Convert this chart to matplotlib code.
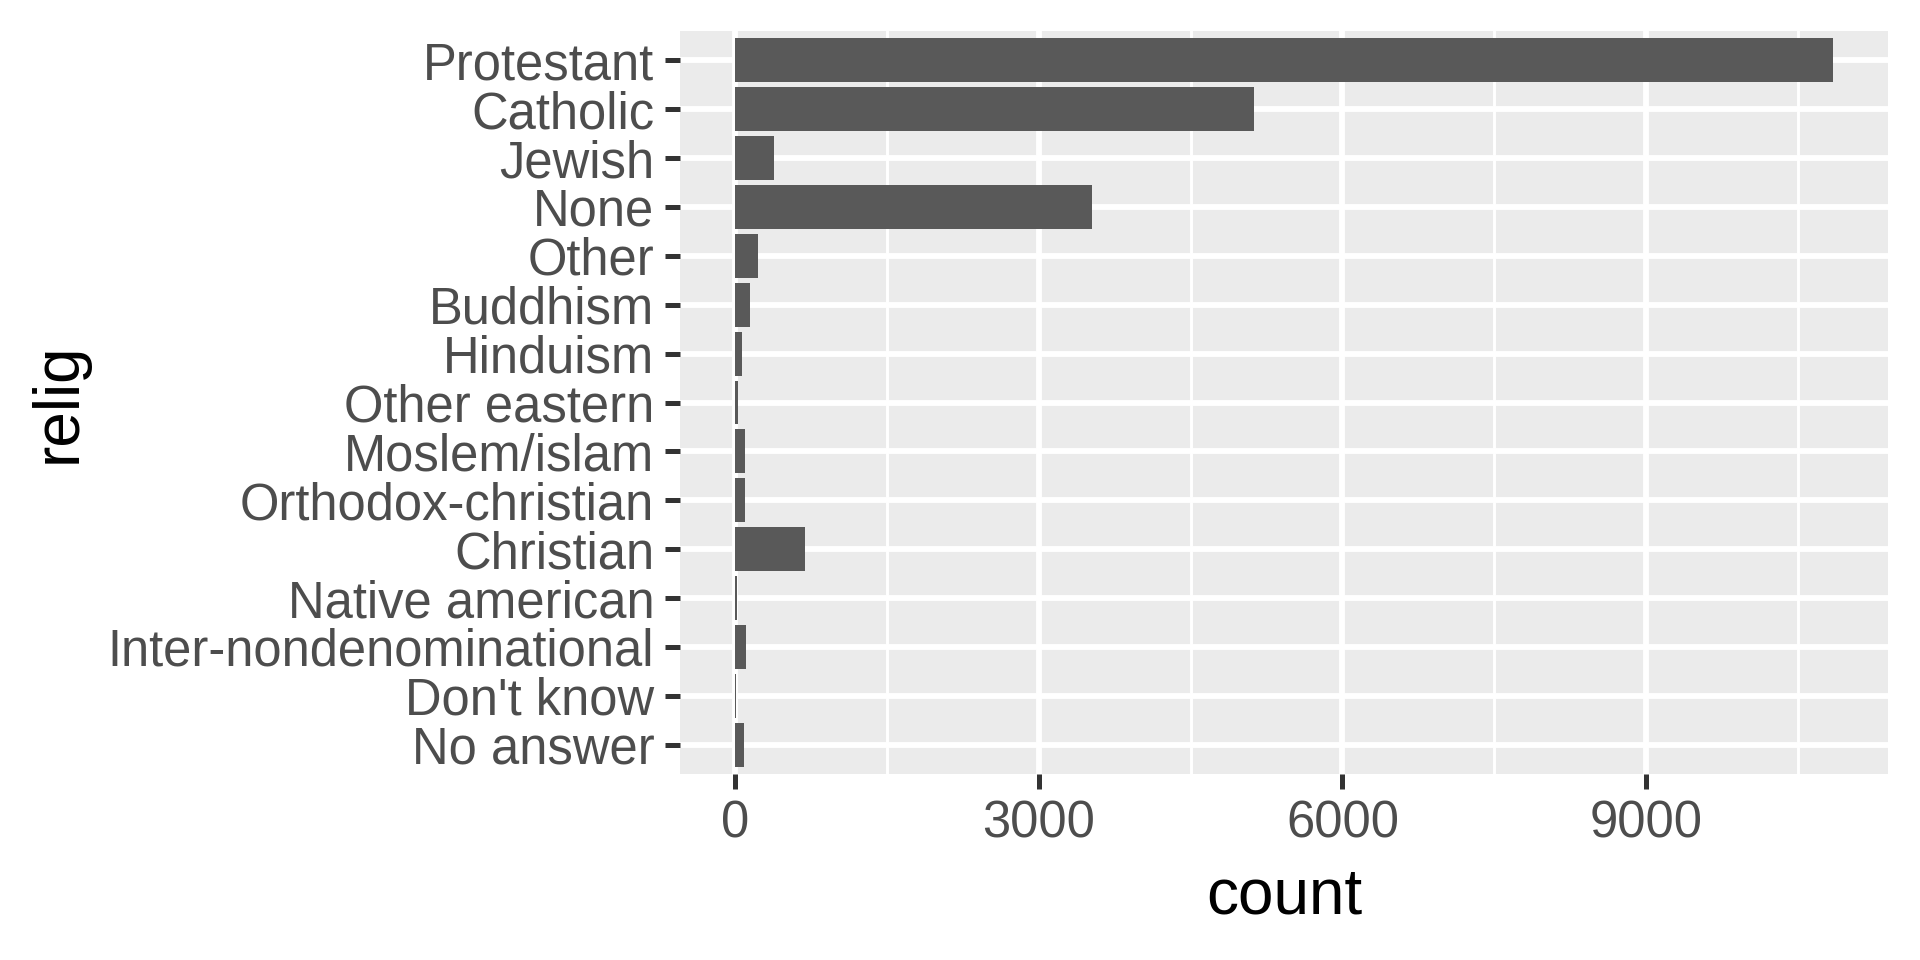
import matplotlib
matplotlib.use("Agg")
import matplotlib.pyplot as plt
from matplotlib.ticker import MultipleLocator

relig = ["Protestant", "Catholic", "Jewish", "None", "Other", "Buddhism",
         "Hinduism", "Other eastern", "Moslem/islam", "Orthodox-christian",
         "Christian", "Native american", "Inter-nondenominational",
         "Don't know", "No answer"]
count = [10846, 5124, 388, 3523, 224, 147, 71, 32, 104, 95, 689, 23, 109, 15, 93]

plt.rcParams["font.family"] = ["Liberation Sans", "DejaVu Sans"]

fig = plt.figure(figsize=(19.2, 9.6), dpi=100)
ax = fig.add_axes([680 / 1920, 1 - 774 / 960, 1208 / 1920, 743 / 960])
ax.set_facecolor("#EBEBEB")

ax.barh(relig[::-1], count[::-1], height=0.9, color="#595959", zorder=3)

ax.set_ylim(-0.6, len(relig) - 0.4)
ax.set_xlim(-max(count) * 0.05, max(count) * 1.05)
ax.xaxis.set_major_locator(MultipleLocator(3000))
ax.xaxis.set_minor_locator(MultipleLocator(1500))

ax.grid(which="major", color="white", linewidth=4.2, zorder=1)
ax.grid(which="minor", axis="x", color="white", linewidth=2.1, zorder=1)
for s in ax.spines.values():
    s.set_visible(False)

ax.tick_params(which="major", length=10.5, width=3.6, color="#333333",
               labelcolor="#4D4D4D", labelsize=36.5, pad=8)
ax.tick_params(which="minor", length=0)

ax.set_xlabel("count", fontsize=46, color="black", labelpad=13)
ax.set_ylabel("relig", fontsize=46, color="black", labelpad=14)

fig.savefig("out.png", dpi=100)
